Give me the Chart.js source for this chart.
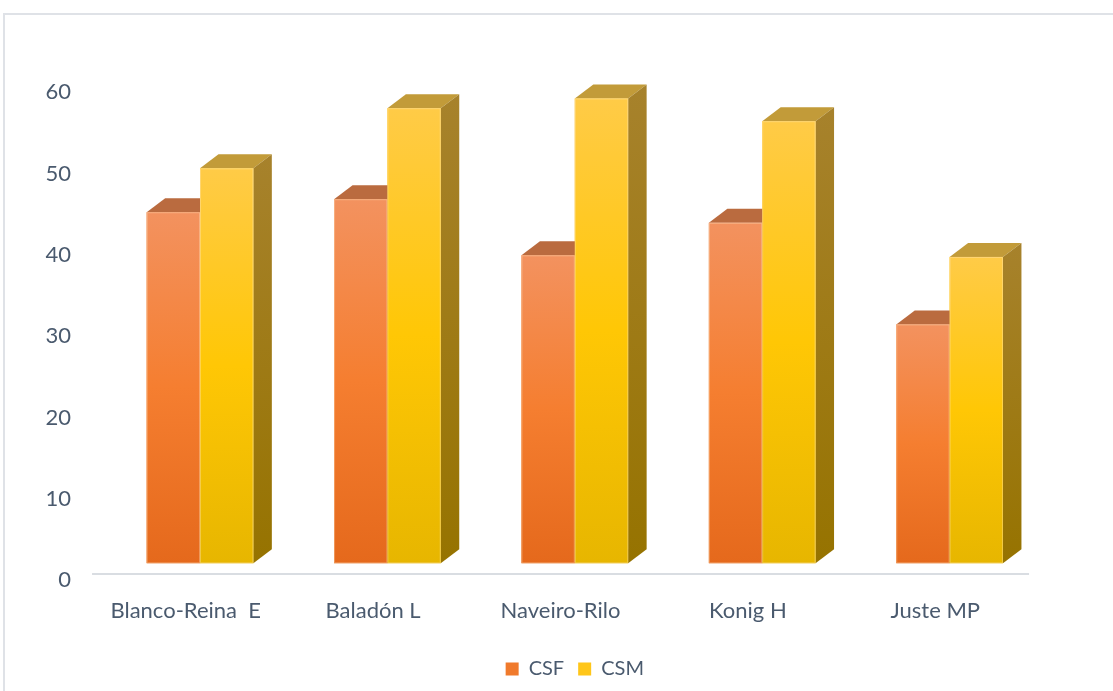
<!DOCTYPE html>
<html><head><meta charset="utf-8">
<script src="https://cdn.jsdelivr.net/npm/chart.js@4.4.1/dist/chart.umd.min.js"></script>
<style>
html,body{margin:0;padding:0;background:#fff;overflow:hidden}
#wrap{position:relative;width:1113px;height:691px}
#frame{position:absolute;left:3px;top:13px;right:-10px;bottom:-10px;border-top:2px solid #dfe2e7;border-left:2px solid #dfe2e7;pointer-events:none}
canvas{position:absolute;left:0;top:0}
</style></head><body>
<div id="wrap"><canvas id="c" width="1113" height="691"></canvas><div id="frame"></div></div>
<script>
const categories = ['Blanco-Reina  E', 'Baladón L', 'Naveiro-Rilo', 'Konig H', 'Juste MP'];
const seriesNames = ['CSF', 'CSM'];
const csfValues = [43.2, 44.8, 37.9, 41.9, 29.4];
const csmValues = [48.6, 56.0, 57.2, 54.4, 37.7];
const yTickValues = [0, 10, 20, 30, 40, 50, 60];

const DX = 18.5, DY = 14;
const palettes = [
  { front: ['#F3925F', '#F57E30', '#E5691C'], top: '#BA6B3F', side: ['#B25C2A', '#9E4E18'], legend: '#F07A2C' },
  { front: ['#FFCB47', '#FFC705', '#E7B600'], top: '#C29B39', side: ['#A7822C', '#967300'], legend: '#FFC619' }
];

function grad(ctx, y0, y1, stops) {
  const g = ctx.createLinearGradient(0, y0, 0, y1);
  g.addColorStop(0, stops[0]);
  if (stops.length === 3) { g.addColorStop(0.5, stops[1]); g.addColorStop(1, stops[2]); }
  else g.addColorStop(1, stops[1]);
  return g;
}

const bar3d = {
  id: 'bar3d',
  beforeDatasetsDraw(chart) {
    const ctx = chart.ctx, a = chart.chartArea;
    const k = 0.77;
    ctx.save();
    ctx.strokeStyle = '#d9dde2';
    ctx.lineWidth = 2;
    ctx.beginPath();
    ctx.moveTo(a.left - DX * k, a.bottom + DY * k);
    ctx.lineTo(a.right - DX * k, a.bottom + DY * k);
    ctx.stroke();
    ctx.restore();
  },
  afterDatasetsDraw(chart) {
    const ctx = chart.ctx;
    const metas = [chart.getDatasetMeta(0), chart.getDatasetMeta(1)];
    ctx.save();
    for (let i = 0; i < categories.length; i++) {
      metas.forEach((meta, di) => {
        const el = meta.data[i];
        const p = el.getProps(['x', 'y', 'base', 'width'], true);
        const l = p.x - p.width / 2, r = p.x + p.width / 2, t = p.y, b = p.base;
        const pal = palettes[di];
        ctx.beginPath();
        ctx.moveTo(l, t); ctx.lineTo(l + DX, t - DY); ctx.lineTo(r + DX, t - DY); ctx.lineTo(r, t); ctx.closePath();
        ctx.fillStyle = pal.top; ctx.fill();
        ctx.beginPath();
        ctx.moveTo(r, t); ctx.lineTo(r + DX, t - DY); ctx.lineTo(r + DX, b - DY); ctx.lineTo(r, b); ctx.closePath();
        ctx.fillStyle = grad(ctx, t - DY, b, pal.side); ctx.fill();
        ctx.fillStyle = grad(ctx, t, b, pal.front);
        ctx.fillRect(l, t, r - l, b - t);
        ctx.strokeStyle = 'rgba(255,235,200,0.35)';
        ctx.lineWidth = 1;
        ctx.strokeRect(l + 0.5, t + 0.5, r - l - 1, b - t - 1);
      });
    }
    ctx.restore();
  }
};

const font = { family: 'Lato', size: 22 };
const legendFont = { family: 'Lato', size: 20 };
const textColor = '#4A5A6E';

new Chart(document.getElementById('c'), {
  type: 'bar',
  data: {
    labels: categories,
    datasets: [
      { label: seriesNames[0], data: csfValues, backgroundColor: palettes[0].legend, borderWidth: 0 },
      { label: seriesNames[1], data: csmValues, backgroundColor: palettes[1].legend, borderWidth: 0 }
    ]
  },
  options: {
    responsive: false,
    animation: false,
    devicePixelRatio: 1,
    datasets: { bar: { barPercentage: 1.0, categoryPercentage: 0.5693 } },
    layout: { padding: { top: 75.7, left: 0, right: 69.7, bottom: 2 } },
    scales: {
      x: {
        grid: { display: false, drawTicks: false },
        border: { display: false },
        ticks: { font, color: textColor, padding: 34.2, labelOffset: -14.3, maxRotation: 0, autoSkip: false },
        afterFit(s) { s.height = 81.7; }
      },
      y: {
        min: 0, max: 60,
        grid: { display: false, drawTicks: false },
        border: { display: false },
        afterBuildTicks(s) { s.ticks = yTickValues.map(v => ({ value: v })); },
        ticks: { font, color: textColor, padding: 35.3, labelOffset: 16.7 },
        afterFit(s) { s.width = 106.3; }
      }
    },
    plugins: {
      tooltip: { enabled: false },
      legend: {
        position: 'bottom',
        fullSize: false,
        labels: {
          font: legendFont, color: textColor, boxWidth: 13, boxHeight: 13, padding: 14,
          generateLabels(chart) {
            return chart.data.datasets.map((d, i) => ({
              text: d.label, fillStyle: palettes[i].legend, strokeStyle: palettes[i].legend,
              lineWidth: 0, hidden: false, datasetIndex: i, fontColor: textColor
            }));
          }
        }
      }
    }
  },
  plugins: [bar3d]
});
</script>
</body></html>
